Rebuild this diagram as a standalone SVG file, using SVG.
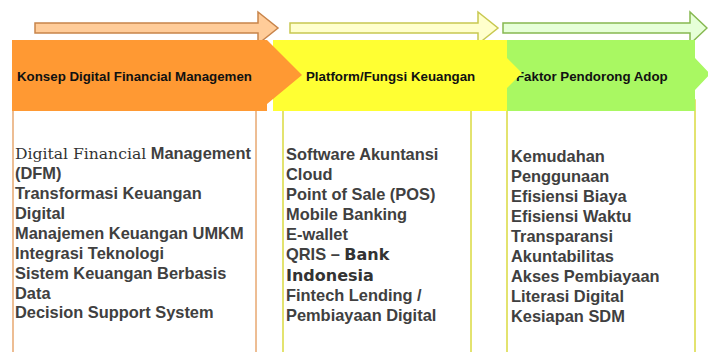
<svg xmlns="http://www.w3.org/2000/svg" width="708" height="352" viewBox="0 0 708 352">
  <style>
    .hdr { font-family: "Liberation Sans", Arial, sans-serif; font-weight: bold; font-size: 13.3px; fill: #111; }
    .body { font-family: "Liberation Sans", Arial, sans-serif; font-weight: bold; font-size: 16.4px; fill: #404040; }
    .serif { font-family: "DejaVu Serif", "Liberation Serif", serif; font-weight: normal; font-size: 15.6px; fill: #333; }
    .heavy { font-family: "DejaVu Sans", sans-serif; font-weight: bold; font-size: 16px; fill: #333; }
    .box { fill: #fff; stroke-width: 1.5; }
  </style>
  <rect x="0" y="0" width="708" height="352" fill="#fff"/>

  <g id="connectors">
    <polygon points="35,23 258,23 258,12 278,28 258,44 258,33 35,33" fill="#FFCC99" stroke="#C8844A" stroke-width="1.5"/>
    <polygon points="290,23 478,23 478,12 498,28 478,44 478,33 290,33" fill="#FFFFCC" stroke="#C8C850" stroke-width="1.5"/>
    <polygon points="503,23 690,23 690,12 707,28 690,44 690,33 503,33" fill="#E6FFD8" stroke="#86B850" stroke-width="1.5"/>
  </g>

  <g id="col1-list">
    <rect class="box" x="13" y="100" width="243" height="270" stroke="#E8A870"/>
    <text class="body" x="15" y="159"><tspan class="serif">Digital Financial</tspan> Management</text>
    <text class="body" x="15" y="179">(DFM)</text>
    <text class="body" x="15" y="199">Transformasi Keuangan</text>
    <text class="body" x="15" y="219">Digital</text>
    <text class="body" x="15" y="239">Manajemen Keuangan UMKM</text>
    <text class="body" x="15" y="259">Integrasi Teknologi</text>
    <text class="body" x="15" y="279">Sistem Keuangan Berbasis</text>
    <text class="body" x="15" y="298.5">Data</text>
    <text class="body" x="15" y="318">Decision Support System</text>
  </g>

  <g id="col2-list">
    <rect class="box" x="283" y="100" width="188" height="270" stroke="#DADA40"/>
    <text class="body" x="286" y="159.5">Software Akuntansi</text>
    <text class="body" x="286" y="179.5">Cloud</text>
    <text class="body" x="286" y="199.5">Point of Sale (POS)</text>
    <text class="body" x="286" y="219.5">Mobile Banking</text>
    <text class="body" x="286" y="239.5">E-wallet</text>
    <text class="body" x="286" y="260">QRIS – <tspan class="heavy">Bank</tspan></text>
    <text class="heavy" x="286" y="280.5">Indonesia</text>
    <text class="body" x="286" y="300.5">Fintech Lending /</text>
    <text class="body" x="286" y="321">Pembiayaan Digital</text>
  </g>

  <g id="col3-list">
    <rect class="box" x="507" y="100" width="188" height="270" stroke="#DADA40"/>
    <text class="body" x="511" y="162">Kemudahan</text>
    <text class="body" x="511" y="182">Penggunaan</text>
    <text class="body" x="511" y="202">Efisiensi Biaya</text>
    <text class="body" x="511" y="222">Efisiensi Waktu</text>
    <text class="body" x="511" y="242">Transparansi</text>
    <text class="body" x="511" y="262">Akuntabilitas</text>
    <text class="body" x="511" y="282">Akses Pembiayaan</text>
    <text class="body" x="511" y="302">Literasi Digital</text>
    <text class="body" x="511" y="322">Kesiapan SDM</text>
  </g>

  <g id="hdr3">
    <polygon points="507,40 695,40 695,58 710,74 695,90 695,111 507,111" fill="#A9F862"/>
    <text class="hdr" x="516" y="81">Faktor Pendorong Adop</text>
  </g>

  <g id="hdr2">
    <polygon points="273,40 507,40 507,58 522,73 507,88 507,111 273,111" fill="#FFFF33"/>
    <text class="hdr" x="306" y="81">Platform/Fungsi Keuangan</text>
  </g>

  <g id="hdr1">
    <polygon points="12,40 267,40 267,40 302,75 267,104 267,111 12,111" fill="#FF9933"/>
    <text class="hdr" x="17" y="81">Konsep Digital Financial Managemen</text>
  </g>
</svg>
